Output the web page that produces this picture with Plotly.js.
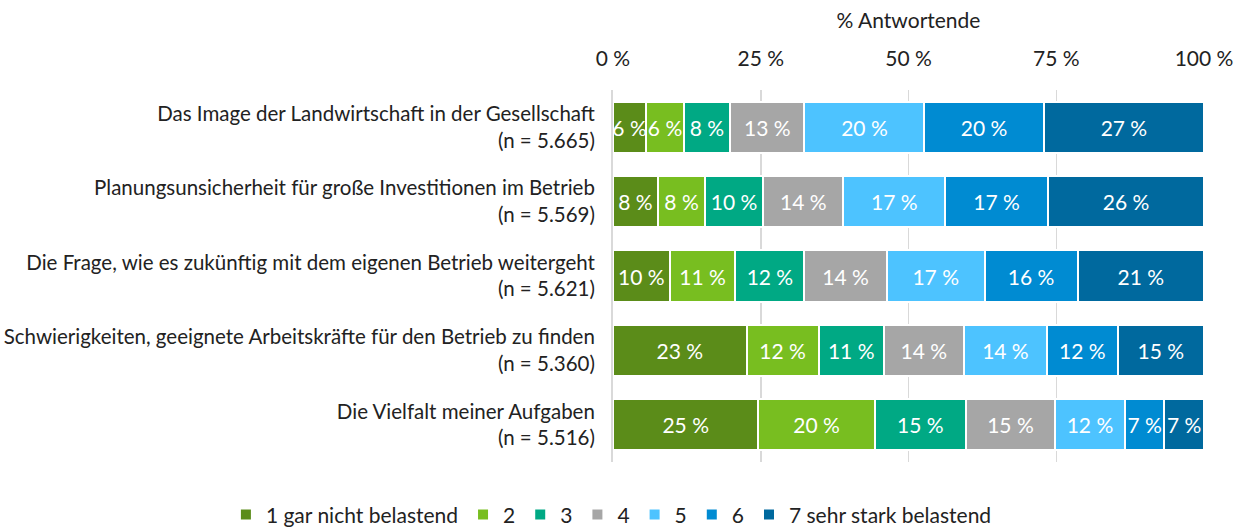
<!DOCTYPE html>
<html>
<head>
<meta charset="utf-8">
<script src="https://cdn.plot.ly/plotly-3.0.1.min.js"></script>
<style>html,body{margin:0;padding:0;background:#fff;}#chart{width:1244px;height:528px;}</style>
</head>
<body>
<div id="chart"></div>
<script>
const categories = [
  'Das Image der Landwirtschaft in der Gesellschaft<br>(n = 5.665)',
  'Planungsunsicherheit für große Investitionen im Betrieb<br>(n = 5.569)',
  'Die Frage, wie es zukünftig mit dem eigenen Betrieb weitergeht<br>(n = 5.621)',
  'Schwierigkeiten, geeignete Arbeitskräfte für den Betrieb zu finden<br>(n = 5.360)',
  'Die Vielfalt meiner Aufgaben<br>(n = 5.516)'
];
const seriesNames = ['1 gar nicht belastend', '2', '3', '4', '5', '6', '7 sehr stark belastend'];
const s1 = [5.6, 7.6, 9.6, 22.6, 24.6];
const s2 = [6.4, 8.0, 11.1, 12.2, 19.7];
const s3 = [7.8, 9.8, 11.7, 11.0, 15.4];
const s4 = [12.6, 13.6, 13.9, 13.6, 15.1];
const s5 = [20.3, 17.2, 16.6, 14.0, 11.8];
const s6 = [20.2, 17.4, 15.7, 12.0, 6.7];
const s7 = [27.1, 26.4, 21.4, 14.6, 6.7];
const seriesValues = [s1, s2, s3, s4, s5, s6, s7];
const colors = ['#5B8C19', '#78BE20', '#00A984', '#A6A6A6', '#4DC3FF', '#008BD2', '#00699E'];
const tickVals = [0, 25, 50, 75, 100];
const tickText = ['0 %', '25 %', '50 %', '75 %', '100 %'];

const FONT = 'Lato, "Open Sans", sans-serif';
const FS = 21;

const traces = seriesValues.map((vals, i) => ({
  type: 'bar',
  orientation: 'h',
  name: seriesNames[i],
  y: categories,
  x: vals,
  marker: {color: colors[i], line: {color: '#ffffff', width: 2}},
  texttemplate: '%{x:.0f} %',
  textposition: 'inside',
  insidetextanchor: 'middle',
  textangle: 0,
  constraintext: 'none',
  textfont: {color: '#ffffff', size: FS, family: FONT},
  hoverinfo: 'skip'
}));

const layout = {
  width: 1244,
  height: 528,
  barmode: 'stack',
  bargap: 0.31,
  margin: {l: 613, r: 40, t: 90, b: 66, autoexpand: false},
  paper_bgcolor: '#ffffff',
  plot_bgcolor: '#ffffff',
  font: {family: FONT, color: '#222222', size: FS},
  xaxis: {
    side: 'top',
    range: [0, 100],
    tickvals: tickVals,
    ticktext: tickText,
    showgrid: true,
    gridcolor: '#D9D9D9',
    gridwidth: 1.5,
    zeroline: false,
    showline: false,
    ticks: '',
    ticklabelstandoff: 19,
    tickfont: {size: FS, color: '#222222'},
    title: {text: '% Antwortende', font: {size: FS, color: '#222222'}, standoff: 10},
    automargin: false,
    fixedrange: true
  },
  yaxis: {
    autorange: 'reversed',
    showgrid: false,
    zeroline: false,
    showline: true,
    linecolor: '#D9D9D9',
    linewidth: 2,
    ticks: '',
    ticklabelstandoff: 12,
    tickfont: {size: 20.5, color: '#222222'},
    automargin: false,
    fixedrange: true
  },
  showlegend: true,
  legend: {
    orientation: 'h',
    traceorder: 'normal',
    xref: 'paper',
    yref: 'paper',
    x: -0.655,
    xanchor: 'left',
    y: -0.142,
    yanchor: 'middle',
    font: {size: FS, color: '#222222'},
    itemclick: false,
    itemdoubleclick: false
  }
};

Plotly.newPlot('chart', traces, layout, {displayModeBar: false, staticPlot: true});
</script>
</body>
</html>
